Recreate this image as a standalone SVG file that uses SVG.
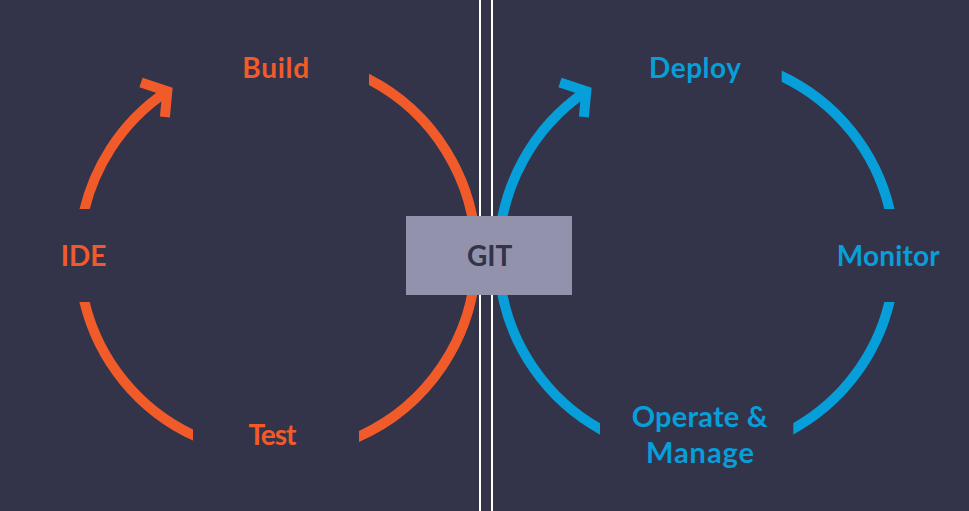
<svg xmlns="http://www.w3.org/2000/svg" width="969" height="511" viewBox="0 0 969 511">
  <style>
    .lbl { font-family: Lato, "Liberation Sans", sans-serif; font-weight: 700; font-size: 28px; text-anchor: middle; }
    .or { fill: #F15B2A; }
    .bl { fill: #069FD9; }
    .arcO { fill: none; stroke: #F15B2A; stroke-width: 10; }
    .arcB { fill: none; stroke: #069FD9; stroke-width: 10; }
    .sep { stroke: #FFFFFF; stroke-width: 2; }
  </style>
  <defs>
    <clipPath id="cTL"><rect x="0" y="0" width="277" height="209"/></clipPath>
    <clipPath id="cR"><rect x="369" y="0" width="111" height="256"/><rect x="359" y="256" width="121" height="255"/></clipPath>
    <clipPath id="cBL"><rect x="0" y="302" width="193" height="209"/></clipPath>
    <clipPath id="cL2"><rect x="486" y="0" width="114" height="511"/></clipPath>
    <clipPath id="cTR2"><rect x="781.7" y="0" width="200" height="209"/></clipPath>
    <clipPath id="cBR2"><rect x="793.3" y="302" width="200" height="209"/></clipPath>
  </defs>
  <rect x="0" y="0" width="969" height="511" fill="#33334A"/>
  <line class="sep" x1="480" y1="0" x2="480" y2="511"/>
  <line class="sep" x1="492" y1="0" x2="492" y2="511"/>

  <g id="connectors">
    <!-- left (orange) cycle -->
    <path class="arcO" clip-path="url(#cTL)" d="M 81.4 225 A 198.5 198.5 0 0 1 167.3 91.2"/>
    <polyline class="arcO" stroke-linejoin="miter" points="141,82.4 167.3,91.2 164.9,117"/>
    <path class="arcO" clip-path="url(#cR)" d="M 362 75.9 A 198.5 198.5 0 0 1 355 438.2"/>
    <path class="arcO" clip-path="url(#cBL)" d="M 197 436.9 A 198.5 198.5 0 0 1 83.6 298"/>
    <!-- right (blue) cycle -->
    <path class="arcB" clip-path="url(#cL2)" d="M 604 431.1 A 198.5 198.5 0 0 1 586.3 91.2"/>
    <polyline class="arcB" stroke-linejoin="miter" points="560,82.4 586.3,91.2 583.9,117"/>
    <path class="arcB" clip-path="url(#cTR2)" d="M 778 74.5 A 198.5 198.5 0 0 1 890.8 215"/>
    <path class="arcB" clip-path="url(#cBR2)" d="M 890.4 298 A 198.5 198.5 0 0 1 789 431.1"/>
  </g>

  <g id="node-git">
    <rect x="406" y="216" width="166" height="79" fill="#9292AD"/>
    <text class="lbl" x="489.7" y="265.7" fill="#33334A">GIT</text>
  </g>
  <g id="node-build"><text class="lbl or" x="275.7" y="78" textLength="67" lengthAdjust="spacing">Build</text></g>
  <g id="node-ide"><text class="lbl or" x="83.5" y="266">IDE</text></g>
  <g id="node-test"><text class="lbl or" x="272" y="445" letter-spacing="-1">Test</text></g>
  <g id="node-deploy"><text class="lbl bl" x="695" y="78" textLength="92" lengthAdjust="spacing">Deploy</text></g>
  <g id="node-monitor"><text class="lbl bl" x="888.3" y="266" textLength="103" lengthAdjust="spacing">Monitor</text></g>
  <g id="node-operate">
    <text class="lbl bl" x="699.7" y="427.3" style="font-size:29px" textLength="136" lengthAdjust="spacing">Operate &amp;</text>
    <text class="lbl bl" x="700" y="463.3" style="font-size:29px" textLength="108" lengthAdjust="spacing">Manage</text>
  </g>
</svg>
